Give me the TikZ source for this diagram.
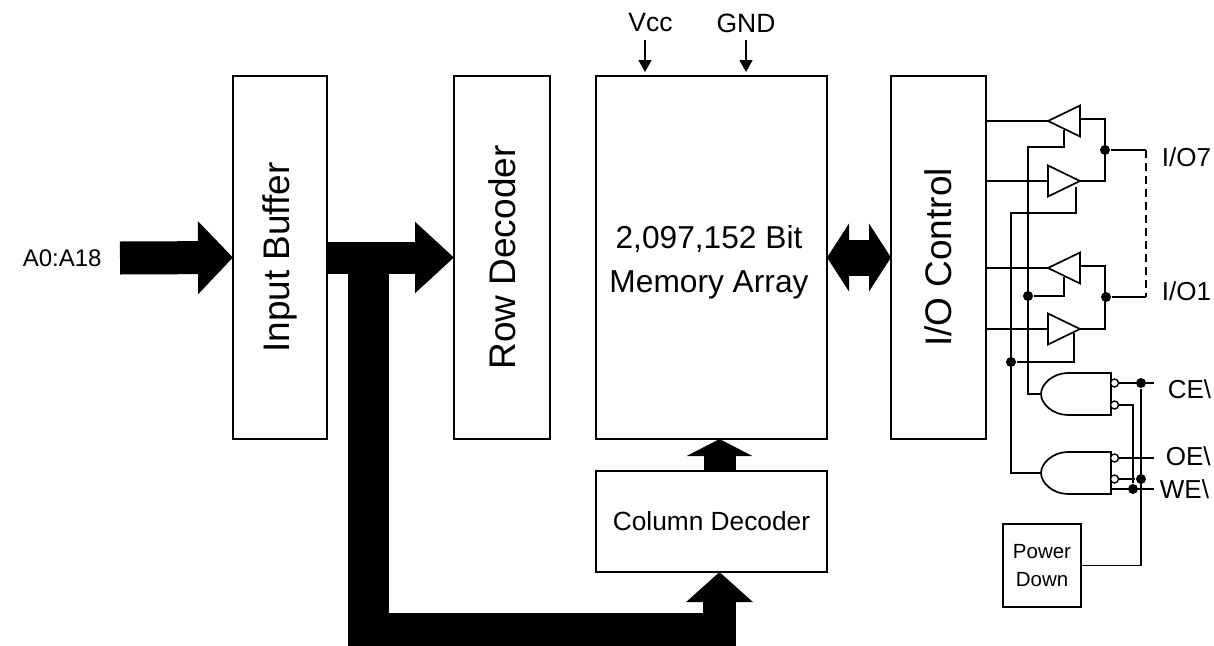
\documentclass[tikz,border=0pt]{standalone}
\usepackage{fontspec}
\setmainfont{Liberation Sans}
\usetikzlibrary{arrows.meta, shapes.geometric}
\newcommand{\fs}[1]{\fontsize{#1}{1.2\dimexpr #1pt\relax}\selectfont}

\begin{document}
\begin{tikzpicture}[x=1pt, y=-1pt, line width=1.7pt, line join=miter,
box/.style={rectangle, draw=black, inner sep=0pt, outer sep=0pt},
lab/.style={inner sep=0pt, anchor=west},
bus/.style={line width=#1, draw=black},
pin/.style={line width=1.3pt, -{Triangle[length=12pt,width=13pt]}},
buf/.style={isosceles triangle, isosceles triangle stretches, draw=black, fill=white, inner sep=0pt, outer sep=0pt, minimum width=31pt, minimum height=32pt, anchor=apex},
bub/.style={circle, draw=black, fill=white, line width=1.4pt, inner sep=0pt, outer sep=0pt, minimum size=8pt},
dot/.style={circle, fill=black, inner sep=0pt, minimum size=10pt}]
\useasboundingbox (0,0) rectangle (1214,645);
% blocks
\node (inbuf) [box, minimum width=94pt, minimum height=363pt] at (280,257.5) {\fs{37}\rotatebox{90}{Input Buffer}};
\node (rowdec) [box, minimum width=96pt, minimum height=363pt] at (502,257.5) {\fs{37}\rotatebox{90}{Row Decoder}};
\node (memarr) [box, minimum width=231pt, minimum height=363pt] at (711.5,257.5) {};
\node (memtxt) [inner sep=0pt, align=center] at (709,262) {\fs{31.7}2,097,152 Bit\\[17pt]\fs{31.7}Memory Array};
\node (ioctl) [box, minimum width=95pt, minimum height=363pt] at (938.5,257.5) {\fs{37}\rotatebox{90}{I/O Control}};
\node (coldec) [box, minimum width=231pt, minimum height=101pt] at (711.5,521.5) {\fs{26.3}Column Decoder};
\node (pwrdn) [box, minimum width=78pt, minimum height=83pt, align=center] at (1042,565.5) {\fs{20.5}Power\\[12pt]\fs{20.5}Down};
% labels
\node (addr) [lab] at (22,258) {\fs{24}A0:A18};
\node (vcc) [lab, anchor=center] at (650.5,23) {\fs{26.5}Vcc};
\node (gnd) [lab, anchor=center] at (746,23) {\fs{26.5}GND};
\node (io7) [lab] at (1161,157) {\fs{26}I/O7};
\node (io1) [lab] at (1161,291) {\fs{26}I/O1};
\node (ce) [lab] at (1167,389) {\fs{26}CE\textbackslash};
\node (oe) [lab] at (1165,456) {\fs{26}OE\textbackslash};
\node (we) [lab] at (1159,489) {\fs{26}WE\textbackslash};
% supply pins
\coordinate (vccin) at (645,40);
\coordinate (vccend) at (645,72);
\coordinate (gndin) at (746,40);
\coordinate (gndend) at (746,72);
\draw[pin] (vccin) -- (vccend);
\draw[pin] (gndin) -- (gndend);
% bus arrows
\coordinate (addrin) at (120,258);
\coordinate (trunk) at (368.5,258);
\coordinate (trunkend) at (368.5,645);
\coordinate (colfoot) at (348,629);
\coordinate (colup) at (719.5,629);
\coordinate (coltop) at (719.5,471);
\draw[bus=33pt, -{Triangle[length=35pt,width=71pt]}] (addrin) -- (inbuf.west);
\draw[bus=32pt, -{Triangle[length=39pt,width=69pt]}] (inbuf.east) -- (rowdec.west);
\draw[bus=41pt] (trunk) -- (trunkend);
\draw[bus=33pt, -{Triangle[length=30pt,width=65pt]}] (colfoot) -- (colup) -- (colup |- coldec.south);
\draw[bus=32pt, -{Triangle[length=17pt,width=65pt]}] (coltop) -- (coltop |- memarr.south);
\draw[bus=36pt, {Triangle[length=22pt,width=67pt]}-{Triangle[length=22pt,width=67pt]}] (memarr.east) -- (ioctl.west);
% output buffers
\node (buf7a) [buf, shape border rotate=180] at (1048,121) {};
\node (buf7b) [buf] at (1080,181) {};
\node (buf1a) [buf, shape border rotate=180] at (1048,268) {};
\node (buf1b) [buf] at (1080,329) {};
\foreach \b in {buf7a, buf1a} \draw (\b.apex) -- (\b.apex -| ioctl.east);
\foreach \b in {buf7b, buf1b} \draw (\b.west) -- (\b.west -| ioctl.east);
\coordinate (out7) at (1080,119);
\coordinate (out1) at (1080,266);
\coordinate (en7a) at (1064,130);
\coordinate (en7b) at (1076,187);
\coordinate (en1a) at (1064,277);
\coordinate (en1b) at (1074,333);
% output nodes
\node (j7) [dot] at (1105,150) {};
\node (j1) [dot] at (1106,297) {};
\coordinate (pin7) at (1146,150);
\coordinate (pin1) at (1146,297);
\draw (out7) -- (1105,119) -- (1105,181) -- (buf7b.apex);
\draw (out1) -- (1105,266) -- (1105,329) -- (buf1b.apex);
\draw (j7) -- (pin7);
\draw (j1) -- (pin1);
\draw[dashed, dash pattern=on 8pt off 5pt] (pin7) -- (pin1);
% gates
\foreach \g/\y/\a/\b in {gate1/394/383/405, gate2/473/458/479} {
  \draw[fill=white] (1111,\y-21) -- (1068,\y-21) .. controls (1053,\y-21) and (1041,\y-10) .. (1041,\y)
    .. controls (1041,\y+10) and (1053,\y+21) .. (1068,\y+21) -- (1111,\y+21) -- cycle;
  \coordinate (\g out) at (1041,\y);
  \node (\g a) [bub] at (1114.5,\a) {};
  \node (\g b) [bub] at (1114.5,\b) {};
}
\node (j2) [dot] at (1028,296) {};
\node (j3) [dot] at (1011,362) {};
\draw (gate1out) -- (1028,394) -- (1028,147) -- (1064,147) -- (en7a);
\draw (j2) -- (1064,296) -- (en1a);
\draw (gate2out) -- (1011,473) -- (1011,213) -- (1076,213) -- (en7b);
\draw (j3) -- (1074,362) -- (en1b);
% control inputs
\coordinate (cepin) at (1154,383);
\coordinate (oepin) at (1154,458);
\coordinate (wepin) at (1154,489);
\coordinate (wetie) at (1111,489);
\node (j4) [dot] at (1141,383) {};
\node (j5) [dot] at (1141,479) {};
\node (j6) [dot] at (1133,489) {};
\draw (gate1a) -- (cepin);
\draw (gate2a) -- (oepin);
\draw (gate1b) -- (1133,405) -- (j6);
\draw (gate2b) -- (j5);
\draw (wetie) -- (wepin);
\draw (j4) -- (j4 |- pwrdn.east) -- (pwrdn.east);
\end{tikzpicture}
\end{document}
